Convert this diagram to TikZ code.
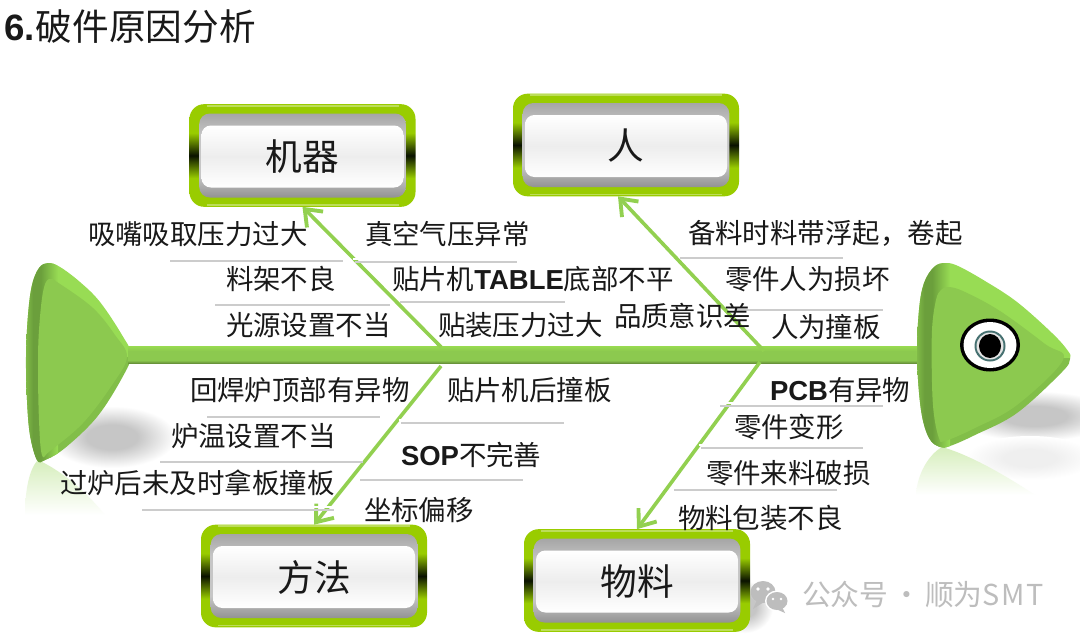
\documentclass[tikz,border=0pt]{standalone}
\usepackage{fontspec}
\setmainfont{Noto Sans CJK SC}
\newfontfamily\lat{Liberation Sans}
\usetikzlibrary{arrows.meta}
\definecolor{rimg}{HTML}{99CC00}
\definecolor{rimk}{HTML}{0A1200}
\definecolor{boneg}{HTML}{92D050}
\definecolor{faceg}{HTML}{8CC94F}
\definecolor{lightg}{HTML}{98DC54}
\definecolor{lowg}{HTML}{82BE49}
\definecolor{darkg}{HTML}{6B9F3C}
\definecolor{edgeg}{HTML}{80BA47}
\definecolor{spinel}{HTML}{98DB50}
\definecolor{spined}{HTML}{69933A}
\definecolor{shg}{HTML}{C6C6C6}
\definecolor{shl}{HTML}{EFEFEF}
\definecolor{refl}{HTML}{D6EEBC}
\definecolor{wm}{HTML}{BDBDBD}
\pgfdeclareverticalshading{rimshade}{100bp}{color(0bp)=(rimg); color(39bp)=(rimg); color(50bp)=(rimk); color(61bp)=(rimg); color(100bp)=(rimg)}
\pgfdeclareverticalshading{greyshade}{100bp}{color(0bp)=(gray!85); color(25bp)=(gray!85); color(38bp)=(gray!45); color(62bp)=(gray!45); color(75bp)=(gray!70); color(100bp)=(gray!70)}
\pgfdeclareverticalshading{paneshade}{100bp}{color(0bp)=(white); color(25bp)=(white); color(50bp)=(black!7); color(75bp)=(white); color(100bp)=(white)}
\pgfdeclareverticalshading{spineshade}{100bp}{color(0bp)=(spined); color(25bp)=(spined); color(33bp)=(faceg); color(60bp)=(faceg); color(75bp)=(spinel); color(100bp)=(spinel)}
\pgfdeclareradialshading{softshade}{\pgfpoint{0bp}{0bp}}{color(0bp)=(shg); color(10bp)=(shg); color(25bp)=(white); color(50bp)=(white)}
\pgfdeclareradialshading{softlight}{\pgfpoint{0bp}{0bp}}{color(0bp)=(shl); color(10bp)=(shl); color(25bp)=(white); color(50bp)=(white)}
\pgfdeclarehorizontalshading{finrim}{100bp}{color(0bp)=(edgeg); color(25bp)=(edgeg); color(36bp)=(darkg); color(48bp)=(darkg); color(75bp)=(lightg); color(100bp)=(lightg)}
\tikzset{
  txt/.style={anchor=west,inner sep=0pt,outer sep=0pt,font=\fontsize{20.6pt}{24pt}\selectfont,text height=18pt,text depth=2.5pt,text=black!90},
  rim/.style={shape=rectangle,rounded corners=11pt,shade,shading=rimshade,minimum width=169.5pt,minimum height=77pt,inner sep=0pt,outer sep=0pt},
  grey/.style={shape=rectangle,rounded corners=8pt,shade,shading=greyshade,minimum width=155pt,minimum height=63pt,inner sep=0pt},
  pane/.style={shape=rectangle,rounded corners=7pt,shade,shading=paneshade,minimum width=151.5pt,minimum height=46.5pt,inner sep=0pt,font=\fontsize{27.5pt}{30pt}\selectfont,text=black!90},
  bone/.style={draw=boneg,line width=2.7pt,-{Straight Barb[length=11pt,width=17pt,line width=2.9pt]}},
  ulw/.style={draw=white,line width=2.2pt},
  ulg/.style={draw=black!20,line width=1.8pt},
  soft/.style={shade,shading=softshade},
  softl/.style={shade,shading=softlight},
}
\newcommand{\fishbox}[4]{%
  \node[rim] (#1) at (#2,#3) {};
  \draw[draw=white,opacity=.35,line width=1.2pt] ([xshift=-72pt,yshift=-1.2pt]#1.north) -- ([xshift=72pt,yshift=-1.2pt]#1.north);
  \draw[draw=white,opacity=.35,line width=1.2pt] ([xshift=-72pt,yshift=1.5pt]#1.south) -- ([xshift=72pt,yshift=1.5pt]#1.south);
  \node[grey] (#1g) at (#2,#3) {};
  \node[pane] (#1p) at (#2,#3+1) {#4};
}
\newcommand{\uline}[3]{%
  \draw[ulg] (#1+2,#3+2.2) -- (#2,#3+2.2);
  \draw[ulw] (#1,#3-1) -- (#2,#3-1);
}
\def\headout{(917,357) (919,310) (924,283) (934,267) (945,263) (958,266) (985,281) (1017,302) (1052,333) (1068,351) (1070,359) (1062,372) (1017,413) (975,435) (950,446) (940,447) (929,438) (921,410)}
\def\headin{(932,383) (932,330) (936,300) (941,290) (949,287) (965,292) (1000,311) (1045,344) (1063,360) (1017,405) (975,428) (945,441) (939,438) (934,415)}
\def\tailout{(26,357) (28,315) (32,285) (39,268) (48,263) (60,267) (80,282) (100,302) (122,335) (131,355) (122,378) (97,417) (65,448) (45,460) (37,460) (30,435) (27,400)}
\def\tailin{(38,367) (39,330) (43,292) (49,279) (60,284) (93,308) (115,335) (127,357) (112,385) (83,423) (50,451) (42,455) (39,420)}
\begin{document}
\begin{tikzpicture}[x=0.75pt,y=-0.75pt]
\clip (0,0) rectangle (1080,639);
\fill[white] (0,0) rectangle (1080,639);
% shadows and reflections
\path[soft] (112,437) ellipse [x radius=64,y radius=31];
\path[soft] (1035,416) ellipse [x radius=80,y radius=25];
\path[softl] (1030,458) ellipse [x radius=65,y radius=22];
\path[shade,top color=refl,bottom color=white] (38,460) .. controls (28,470) and (25,495) .. (25,515) -- (105,515) .. controls (85,490) and (60,470) .. (38,460) -- cycle;
\path[shade,top color=refl,bottom color=white] (942,447) .. controls (928,455) and (917,475) .. (916,495) -- (1035,495) .. controls (1005,475) and (970,455) .. (942,447) -- cycle;
\path[soft] (745,607) ellipse [x radius=28,y radius=26];
% tail
\begin{scope}
  \clip plot[smooth cycle,tension=0.6] coordinates {\tailout};
  \fill[lightg] (0,250) rectangle (140,357);
  \fill[lowg] (0,357) rectangle (140,470);
  \path[shade,shading=finrim] (26,250) rectangle (58,470);
\end{scope}
\fill[faceg] plot[smooth cycle,tension=0.6] coordinates {\tailin};
% spine
\path[shade,shading=spineshade] (128,346) rectangle (919,363);
% head
\begin{scope}
  \clip plot[smooth cycle,tension=0.6] coordinates {\headout};
  \fill[lightg] (910,250) rectangle (1080,358);
  \fill[lowg] (910,358) rectangle (1080,455);
  \path[shade,shading=finrim] (917,250) rectangle (950,455);
\end{scope}
\fill[faceg] plot[smooth cycle,tension=0.6] coordinates {\headin};
% eye
\fill[black] (990,345) ellipse [x radius=30,y radius=26.5];
\fill[white] (990,345) ellipse [x radius=26.5,y radius=23];
\fill[black!25!teal!45!gray] (990,346) circle [radius=15.5];
\fill[black!10] (990,346) circle [radius=13.5];
\fill[black] (990,346) ellipse [x radius=11,y radius=12];
% boxes
\fishbox{jq}{302.5}{155.5}{机器}
\fishbox{ren}{626}{145}{人}
\fishbox{ff}{314}{576}{方法}
\fishbox{wl}{637}{580.5}{物料}
% bones
\coordinate (j1) at (441,347);
\coordinate (j2) at (764,351);
\coordinate (j3) at (441,366);
\coordinate (j4) at (760,362);
\path[bone] (j1) -- (jq.south);
\path[bone] (j2) -- ([xshift=-6pt]ren.south);
\path[bone] (j3) -- (ff.north);
\path[bone] (j4) -- (wl.north);
% underlines
\uline{168}{343}{259}
\uline{353}{517}{260}
\uline{213}{390}{303}
\uline{398}{565}{300}
\uline{678}{843}{256}
\uline{733}{883}{308}
\uline{205}{380}{415}
\uline{399}{564}{421}
\uline{158}{363}{460}
\uline{358}{523}{478}
\uline{140}{334}{508}
\uline{718}{883}{404}
\uline{699}{863}{446}
\uline{672}{837}{488}
% labels
\node[txt] (t0) at (4,30) {\fontsize{27.5pt}{30pt}\selectfont{\lat\bfseries 6.}\kern1pt 破件原因分析};
\node[txt] (a1) at (88,234) {吸嘴吸取压力过大};
\node[txt] (a2) at (365,234) {真空气压异常};
\node[txt] (a3) at (226,279) {料架不良};
\node[txt] (a4) at (392,279) {贴片机{\lat\bfseries TABLE}底部不平};
\node[txt] (a5) at (226,325) {光源设置不当};
\node[txt] (a6) at (438,325) {贴装压力过大};
\node[txt] (b1) at (688,233) {备料时料带浮起，卷起};
\node[txt] (b2) at (725,279) {零件人为损坏};
\node[txt] (b3) at (614,316) {品质意识差};
\node[txt] (b4) at (771,327) {人为撞板};
\node[txt] (c1) at (190,390) {回焊炉顶部有异物};
\node[txt] (c2) at (447,390) {贴片机后撞板};
\node[txt] (c3) at (171,436) {炉温设置不当};
\node[txt] (c4) at (401,455) {{\lat\bfseries SOP}不完善};
\node[txt] (c5) at (60,483) {过炉后未及时拿板撞板};
\node[txt] (c6) at (364,510) {坐标偏移};
\node[txt] (d1) at (770,390) {{\lat\bfseries PCB}有异物};
\node[txt] (d2) at (734,427) {零件变形};
\node[txt] (d3) at (706,473) {零件来料破损};
\node[txt] (d4) at (678,518) {物料包装不良};
% watermark
\fill[wm] (763,592) ellipse [x radius=12.5,y radius=11];
\fill[wm] (757,600) -- (753,609) -- (764,602) -- cycle;
\fill[white] (777,601) ellipse [x radius=12,y radius=10.5];
\fill[wm] (777,601) ellipse [x radius=10.5,y radius=9];
\fill[wm] (782,607) -- (785,613) -- (776,609) -- cycle;
\fill[white] (758,589) circle [radius=1.8];
\fill[white] (768,589) circle [radius=1.8];
\fill[white] (773,599) circle [radius=1.4];
\fill[white] (781,599) circle [radius=1.4];
\node[txt,text=wm,font=\fontsize{21.6pt}{24pt}\selectfont] (w) at (802,595) {公众号\hspace{3pt}·\hspace{3pt}顺为S\kern1pt M\kern1pt T};
\end{tikzpicture}
\end{document}
